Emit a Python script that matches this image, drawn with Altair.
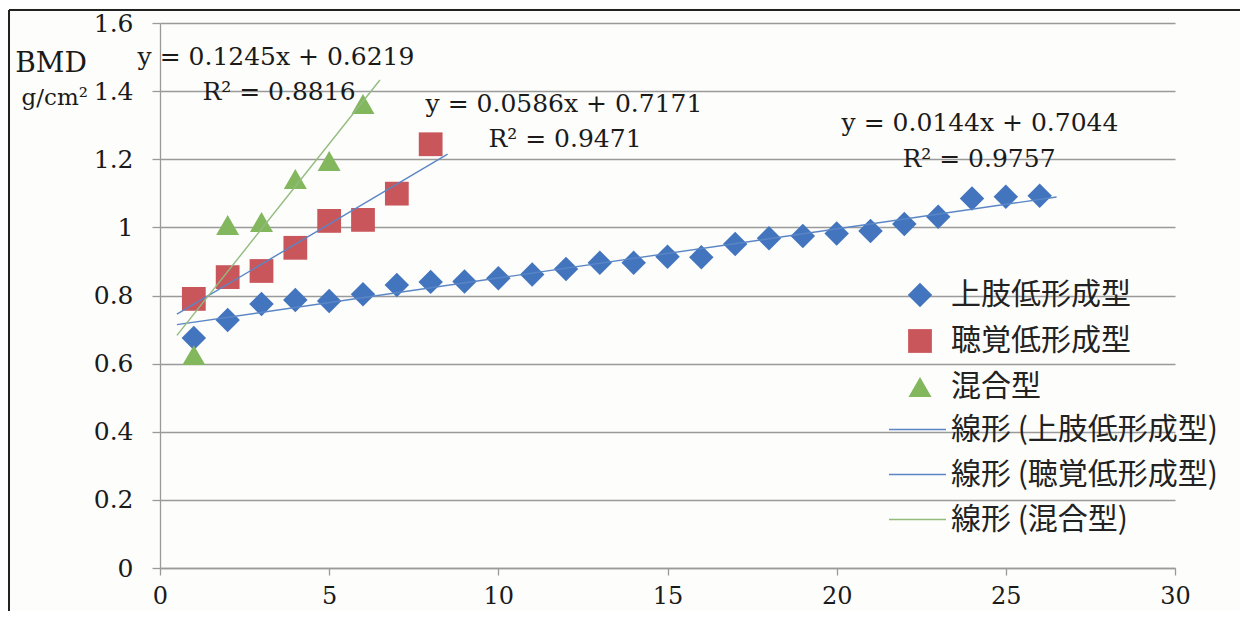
import altair as alt
import pandas as pd

# ---------------- data ----------------
groups = ["上肢低形成型", "聴覚低形成型", "混合型"]
trend_names = ["線形 (上肢低形成型)", "線形 (聴覚低形成型)", "線形 (混合型)"]

x_up = list(range(1, 27))
bmd_up = [0.675, 0.728, 0.775, 0.787, 0.784, 0.804, 0.831, 0.840, 0.841, 0.851,
          0.862, 0.878, 0.896, 0.896, 0.914, 0.912, 0.951, 0.968, 0.975, 0.982,
          0.989, 1.010, 1.031, 1.085, 1.090, 1.093]
x_hear = list(range(1, 9))
bmd_hear = [0.790, 0.854, 0.872, 0.940, 1.019, 1.022, 1.099, 1.244]
x_mix = list(range(1, 7))
bmd_mix = [0.625, 1.007, 1.016, 1.142, 1.195, 1.362]

eq_mix = ["y = 0.1245x + 0.6219", "R² = 0.8816"]
eq_hear = ["y = 0.0586x + 0.7171", "R² = 0.9471"]
eq_up = ["y = 0.0144x + 0.7044", "R² = 0.9757"]
y_title = ["BMD", "g/cm²"]

y_ticks = [0, 0.2, 0.4, 0.6, 0.8, 1.0, 1.2, 1.4, 1.6]
x_ticks = [0, 5, 10, 15, 20, 25, 30]

df = pd.DataFrame({
    "x": x_up + x_hear + x_mix,
    "y": bmd_up + bmd_hear + bmd_mix,
    "group": [groups[0]] * len(x_up) + [groups[1]] * len(x_hear) + [groups[2]] * len(x_mix),
})
dummy = pd.DataFrame({"d": [0]})

# ---------------- styles ----------------
pt_colors = ["#4375BE", "#C9565B", "#82B75E"]
pt_sizes = [600, 530, 680]
line_colors = ["#5A86C6", "#5A86C6", "#92BB7E"]
serif = "DejaVu Serif"
jp = "Noto Sans CJK JP"
grid_col = "#9a9a9a"

x_enc = alt.X("x:Q", scale=alt.Scale(domain=[0, 30], nice=False),
              axis=alt.Axis(values=x_ticks, title=None, grid=False, tickSize=7,
                            tickColor=grid_col, domainColor=grid_col, domainWidth=1.3,
                            tickWidth=1.3, labelFont=serif, labelFontSize=24,
                            labelColor="#1a1a1a", labelPadding=9, labelFlush=False))
y_enc = alt.Y("y:Q", scale=alt.Scale(domain=[0, 1.6], nice=False),
              axis=alt.Axis(values=y_ticks, title=None, grid=True, gridColor=grid_col,
                            gridWidth=1.3, tickSize=8, tickColor=grid_col, tickWidth=1.3,
                            domainColor=grid_col, domainWidth=1.3,
                            labelExpr="format(datum.value, '~g')",
                            labelFont=serif, labelFontSize=25, labelColor="#1a1a1a",
                            labelPadding=19, labelFlush=False))

leg1 = alt.Legend(title=None, orient="none", legendX=745, legendY=257, padding=0,
                  labelFont=jp, labelFontSize=30, labelColor="#222222",
                  symbolSize=340, labelOffset=16, rowPadding=16, labelLimit=400)
leg2 = alt.Legend(title=None, orient="none", legendX=728, legendY=377, padding=0,
                  labelFont=jp, labelFontSize=30, labelColor="#222222",
                  symbolType="stroke", symbolSize=3250, symbolStrokeWidth=1.5,
                  labelOffset=4, rowPadding=-11, labelLimit=400)

base = alt.Chart(df)

points = base.mark_point(filled=True, opacity=1).encode(
    x=x_enc, y=y_enc,
    color=alt.Color("group:N", scale=alt.Scale(domain=groups, range=pt_colors), legend=leg1),
    shape=alt.Shape("group:N", scale=alt.Scale(domain=groups,
                    range=["diamond", "square", "triangle-up"]), legend=leg1),
    size=alt.Size("group:N", scale=alt.Scale(domain=groups, range=pt_sizes), legend=None),
)


def trend(i, ext):
    return base.transform_filter(
        alt.datum.group == groups[i]
    ).transform_regression("x", "y", extent=ext).transform_calculate(
        trend=f"'{trend_names[i]}'"
    ).mark_line(strokeWidth=1.4).encode(
        x="x:Q", y="y:Q",
        color=alt.Color("trend:N", scale=alt.Scale(domain=trend_names, range=line_colors),
                        legend=leg2),
    )


lines = alt.layer(trend(0, [0.5, 26.5]), trend(1, [0.5, 8.5]), trend(2, [0.5, 6.5]))


def label(txt, px, py, size=25, font=serif, align="center"):
    return alt.Chart(dummy).mark_text(font=font, fontSize=size, align=align,
                                      baseline="middle", color="#1a1a1a").encode(
        x=alt.value(px), y=alt.value(py), text=alt.value(txt))


texts = [
    label(eq_mix[0], 116, 34), label(eq_mix[1], 119, 69),
    label(eq_hear[0], 404, 81), label(eq_hear[1], 405, 116),
    label(eq_up[0], 820, 100), label(eq_up[1], 819, 136),
    label(y_title[0], -73, 41, size=28, align="right"),
    label(y_title[1], -72, 75, size=23, align="right"),
]

frame_left = alt.Chart(dummy).mark_rule(color="#222222", strokeWidth=2).encode(
    x=alt.value(-151), y=alt.value(-13), y2=alt.value(600))
frame_top = alt.Chart(dummy).mark_rule(color="#222222", strokeWidth=2).encode(
    x=alt.value(-151), x2=alt.value(1090), y=alt.value(-13))

chart = alt.layer(points, lines, *texts, frame_left, frame_top).resolve_scale(
    color="independent", shape="independent", size="independent"
).properties(
    width=1015, height=545,
    autosize=alt.AutoSizeParams(type="none"),
    padding={"left": 152, "top": 15, "right": 65, "bottom": 43},
    background="#fdfdfb",
).configure_view(stroke=None)

chart.save("out.html", embed_options={"renderer": "svg", "actions": False})
